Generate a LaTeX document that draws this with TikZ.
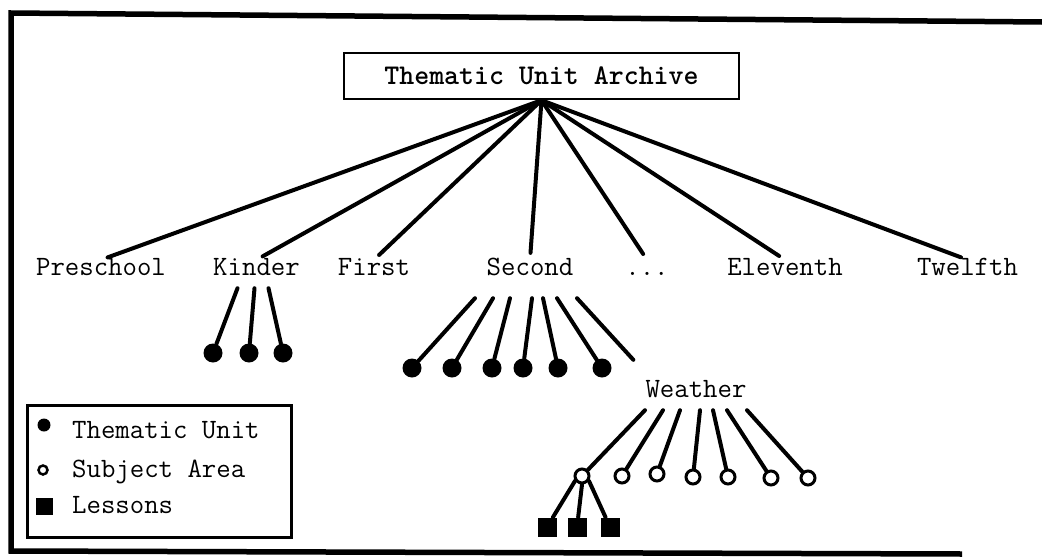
\documentclass[tikz,border=0pt]{standalone}
\usepackage{fontspec}
\begin{document}
\begin{tikzpicture}[x=1pt,y=-1pt,line cap=round,
  lbl/.style={font=\ttfamily\fontsize{28}{32}\selectfont,inner sep=0pt,text height=15pt,text depth=0pt,anchor=base},
  unit/.style={circle,fill,inner sep=0pt,minimum size=19pt},
  subj/.style={circle,draw,line width=3pt,fill=white,inner sep=0pt,minimum size=14pt},
  lesson/.style={fill,inner sep=0pt,minimum size=19pt},
  link/.style={line width=4pt}]
\useasboundingbox (0,0) rectangle (1042,557);
% frame
\draw[line width=5.5pt,line cap=butt] (1042,22)--(11,13)--(11,551)--(962,554);
% archive and grades
\node[draw,line width=2.5pt,minimum width=395pt,minimum height=46pt,inner sep=0pt,
  font=\ttfamily\bfseries\fontsize{28.5}{32}\selectfont] (root) at (541.5,76) {Thematic Unit Archive};
\node[lbl] (pre) at (101,275) {Preschool};
\node[lbl] (kin) at (256.5,275) {Kinder};
\node[lbl] (fir) at (374,275) {First};
\node[lbl] (sec) at (530,275) {Second};
\node[lbl] (dots) at (647,275) {...};
\node[lbl] (ele) at (785,275) {Eleventh};
\node[lbl] (twe) at (967.5,275) {Twelfth};
\foreach \g in {pre,kin,fir,sec,dots,ele,twe}
  \draw[link,shorten >=7pt] (root.south)--(\g.north);
% thematic units
\node[unit] (k1) at (213,353) {};
\node[unit] (k2) at (249,353) {};
\node[unit] (k3) at (283,353) {};
\foreach \i/\dx in {1/-19,2/-2,3/12}
  \draw[link] ([shift={(\dx,13)}]kin.south)--(k\i);
\node[unit] (s1) at (412,368) {};
\node[unit] (s2) at (452,368) {};
\node[unit] (s3) at (492,368) {};
\node[unit] (s4) at (523,368) {};
\node[unit] (s5) at (558,368) {};
\node[unit] (s6) at (602,368) {};
\foreach \i/\dx in {1/-55,2/-37,3/-20,4/2,5/13,6/27}
  \draw[link] ([shift={(\dx,23)}]sec.south)--(s\i);
\node[lbl] (wea) at (696,397) {Weather};
\draw[link] ([shift={(47,23)}]sec.south)--([shift={(-12,-22)}]wea.north west);
% subject areas
\node[subj] (c1) at (582,476) {};
\node[subj] (c2) at (622,476) {};
\node[subj] (c3) at (657,474) {};
\node[subj] (c4) at (693,477) {};
\node[subj] (c5) at (728,477) {};
\node[subj] (c6) at (771,478) {};
\node[subj] (c7) at (808,478) {};
\foreach \i/\dx in {1/-51,2/-33,3/-16,4/4,5/17,6/31,7/51}
  \draw[link] ([shift={(\dx,13)}]wea.south)--(c\i);
% lessons
\node[lesson] (l1) at (547,527) {};
\node[lesson] (l2) at (577,527) {};
\node[lesson] (l3) at (610,527) {};
\draw[link] (c1.215)--(l1);
\draw[link] (c1.south)--(l2);
\draw[link] (c1.-35)--(l3);
% key
\node[draw,line width=3pt,minimum width=264pt,minimum height=132pt] (key) at (159,471) {};
\node[unit,minimum size=13pt] (ku) at (44,425) {};
\node[lbl,anchor=base west] (kut) at (72,438) {Thematic Unit};
\node[subj,minimum size=9pt,line width=2.5pt] (ks) at (43,470) {};
\node[lbl,anchor=base west] (kst) at (72,477) {Subject Area};
\node[lesson,minimum size=17pt] (kl) at (44,506) {};
\node[lbl,anchor=base west] (klt) at (72,513) {Lessons};
\end{tikzpicture}
\end{document}
